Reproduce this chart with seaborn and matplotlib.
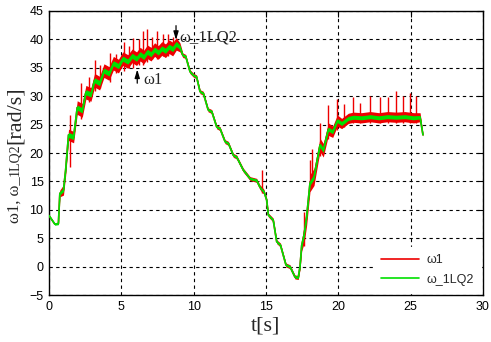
import numpy as np
import pandas as pd
import matplotlib
matplotlib.use("Agg")
import matplotlib.pyplot as plt
import seaborn as sns

# ---- data ----
t_pts = [0.0, 0.4, 0.65, 0.75, 1.0, 1.15, 1.35, 1.7, 1.95, 2.3, 2.55, 2.9, 3.15, 3.5,
         3.8, 4.15, 4.45, 4.8, 5.1, 5.45, 5.75, 6.05, 6.3, 6.55, 6.8, 7.05, 7.3, 7.55,
         7.8, 8.05, 8.3, 8.55, 8.8, 9.05, 9.25, 9.45, 9.75, 9.98, 10.2, 10.44, 10.67,
         11.0, 11.25, 11.59, 11.82, 12.17, 12.4, 12.74, 12.97, 13.43, 13.9, 14.35,
         14.58, 14.7, 14.86, 15.05, 15.16, 15.5, 15.74, 16.0, 16.38, 16.66, 17.0,
         17.23, 17.35, 17.47, 17.63, 17.81, 18.04, 18.32, 18.62, 18.73, 18.96, 19.31,
         19.61, 19.93, 20.23, 20.69, 21.04, 21.6, 22.2, 22.8, 23.4, 24.0, 24.6, 25.2,
         25.65, 25.85]
w_center = [9.0, 7.5, 7.6, 12.9, 13.5, 17.0, 23.2, 22.8, 28.0, 27.5, 30.7, 30.3, 32.8, 32.3,
            34.5, 34.0, 35.8, 35.3, 36.6, 36.1, 37.1, 36.6, 37.4, 36.9, 37.8, 37.4, 38.2, 37.7,
            38.4, 38.0, 38.7, 38.3, 39.2, 38.6, 37.2, 37.0, 34.3, 33.7, 33.4, 30.8, 30.5,
            27.6, 27.3, 24.6, 24.3, 22.0, 21.7, 19.6, 19.3, 17.0, 15.5, 15.2,
            14.0, 13.6, 13.2, 11.7, 9.1, 8.2, 4.4, 3.8, 0.3, 0.0, -1.8,
            -1.9, 0.0, 3.8, 5.6, 8.8, 14.7, 15.8, 19.9, 21.4, 20.5, 24.2,
            23.75, 25.7, 25.2, 26.1, 26.3, 26.2, 26.4, 26.2, 26.4, 26.3, 26.4, 26.2,
            26.3, 23.2]
# ripple half-widths of the two traces
green_hw = [0.2, 0.2, 0.2, 0.3, 0.3, 0.4, 0.45, 0.45, 0.45, 0.45, 0.45, 0.45, 0.45, 0.45,
            0.45, 0.45, 0.45, 0.45, 0.45, 0.45, 0.45, 0.45, 0.45, 0.45, 0.45, 0.45, 0.45, 0.45,
            0.45, 0.45, 0.45, 0.45, 0.45, 0.4, 0.2, 0.2, 0.2, 0.2, 0.2, 0.2, 0.2,
            0.2, 0.2, 0.2, 0.2, 0.2, 0.2, 0.2, 0.2, 0.2, 0.2, 0.2,
            0.2, 0.2, 0.2, 0.2, 0.2, 0.2, 0.2, 0.2, 0.2, 0.2, 0.2,
            0.2, 0.2, 0.3, 0.4, 0.4, 0.4, 0.4, 0.4, 0.4, 0.4, 0.35,
            0.35, 0.35, 0.35, 0.35, 0.35, 0.35, 0.35, 0.35, 0.35, 0.35, 0.35, 0.35,
            0.3, 0.2]
red_hw = [0.1, 0.1, 0.1, 0.6, 0.9, 1.0, 1.0, 1.0, 1.2, 1.2, 1.2, 1.2, 1.2, 1.2,
          1.2, 1.2, 1.2, 1.2, 1.2, 1.2, 1.2, 1.2, 1.2, 1.2, 1.2, 1.2, 1.2, 1.2,
          1.2, 1.2, 1.2, 1.2, 1.1, 0.8, 0.4, 0.35, 0.35, 0.35, 0.35, 0.35, 0.35,
          0.35, 0.35, 0.35, 0.35, 0.35, 0.35, 0.35, 0.35, 0.35, 0.35, 0.35,
          0.4, 0.5, 0.4, 0.35, 0.35, 0.35, 0.35, 0.35, 0.35, 0.35, 0.35,
          0.35, 0.5, 1.0, 1.5, 1.5, 1.5, 1.5, 1.2, 1.2, 1.2, 1.1,
          1.0, 1.0, 0.9, 0.9, 0.9, 0.9, 0.9, 0.9, 0.9, 0.9, 0.9, 0.9,
          0.8, 0.2]
# red spikes (time, top, bottom)
spike_t = [1.42, 2.2, 2.75, 3.18, 3.55, 4.2, 4.6, 5.18, 5.55, 5.8, 6.2, 6.48, 6.8, 7.1,
           7.44, 7.9, 8.25, 8.6, 14.7, 17.6, 18.05, 18.2, 18.7, 19.3, 19.93, 20.4, 20.99,
           21.5, 22.19, 22.88, 23.4, 23.99, 24.5, 24.95, 25.4]
spike_top = [26.7, 32.3, 33.4, 36.4, 35.5, 37.6, 37.5, 39.6, 38.8, 40.3, 40.0, 41.4, 41.8, 40.5,
             41.4, 41.0, 41.0, 40.4, 17.0, 9.7, 18.8, 20.7, 25.3, 28.4, 29.5, 28.6, 29.9,
             28.8, 30.0, 29.8, 29.9, 31.0, 30.0, 30.5, 30.1]
spike_bot = [17.6, 26.0, 29.0, 31.0, 31.5, 32.5, 34.0, 34.5, 35.0, 35.0, 35.5, 35.5, 36.0, 36.5,
             36.5, 37.0, 37.0, 37.5, 13.0, 3.6, 13.8, 15.0, 19.5, 22.5, 24.0, 24.5, 25.2,
             25.2, 25.3, 25.3, 25.3, 25.3, 25.3, 25.3, 25.3]
x_ticks = [0, 5, 10, 15, 20, 25, 30]
y_ticks = [-5, 0, 5, 10, 15, 20, 25, 30, 35, 40, 45]
series_labels = ["ω1", "ω_1LQ2"]

RED = "#ee0000"
GREEN = "#00e000"

sns.set_style("white")
plt.rcParams['font.family'] = ['Liberation Sans', 'DejaVu Sans']

fig = plt.figure(figsize=(4.91, 3.42), dpi=100)
ax = fig.add_axes([0.0998, 0.137, 0.8839, 0.831])

df = pd.DataFrame({"t": t_pts, "w": w_center})
c = np.array(w_center)
ghw = np.array(green_hw)
rhw = np.array(red_hw)

# red trace
ax.fill_between(t_pts, c - rhw, c + rhw, color=RED, lw=0, zorder=2)
ax.vlines(spike_t, spike_bot, spike_top, color=RED, lw=1.0, zorder=2)
sns.lineplot(data=df, x="t", y="w", ax=ax, color=RED, lw=1.2, label=series_labels[0],
             estimator=None, sort=False, zorder=3)
# green trace
ax.fill_between(t_pts, c - ghw, c + ghw, color=GREEN, lw=0, zorder=4)
sns.lineplot(data=df, x="t", y="w", ax=ax, color=GREEN, lw=1.2, label=series_labels[1],
             estimator=None, sort=False, zorder=5)

ax.set_xlim(0, 30)
ax.set_ylim(-5, 45)
ax.set_xticks(x_ticks)
ax.set_yticks(y_ticks)
ax.grid(True, color="black", linestyle=(0, (3, 3)), lw=0.8)
ax.set_axisbelow(True)
for s in ax.spines.values():
    s.set_color("black")
    s.set_linewidth(1.0)
ax.tick_params(direction="in", length=4, width=0.8, labelsize=9, colors="black", pad=4,
               top=True, right=True)
ax.set_xlabel("")
ax.set_ylabel("")

# x label
fig.text(0.5 * (0.0998 + 0.9837), 0.02, "t[s]", family="Liberation Serif", fontsize=16,
         ha="center", va="bottom")

# y label pieces
fig.canvas.draw()
r = fig.canvas.get_renderer()
xc = 15 / 491
y0 = 1 - 223 / 342
pieces = [("ω1, ω_", 12), ("1LQ2", 10), ("[rad/s]", 16)]
for txt, fs in pieces:
    tt = fig.text(xc, y0, txt, family="Liberation Serif", fontsize=fs, rotation=90,
                  ha="center", va="bottom")
    bb = tt.get_window_extent(r)
    y0 += bb.height / fig.bbox.height

# annotations
ax.annotate("", xy=(6.1, 35.2), xytext=(6.1, 31.8),
            arrowprops=dict(arrowstyle="-|>,head_length=0.5,head_width=0.15", lw=0.9, color="black"),
            zorder=6)
ax.text(6.55, 32.9, "ω1", family="Liberation Serif", fontsize=12, ha="left", va="center", zorder=6)
ax.annotate("", xy=(8.78, 39.4), xytext=(8.78, 42.9),
            arrowprops=dict(arrowstyle="-|>,head_length=0.5,head_width=0.15", lw=0.9, color="black"),
            zorder=6)
ax.text(9.0, 40.3, "ω_1LQ2", family="Liberation Serif", fontsize=12, ha="left", va="center", zorder=6)

leg = ax.legend(loc="lower right", bbox_to_anchor=(1.0, 0.0), frameon=True, fancybox=False,
                prop={"size": 9}, handlelength=3.0, handletextpad=0.6, labelspacing=0.6,
                borderaxespad=0.15, borderpad=0.6)
leg.get_frame().set_facecolor("white")
leg.get_frame().set_edgecolor("white")
leg.get_frame().set_alpha(1.0)
leg.set_zorder(10)

fig.savefig("out.png", dpi=100)
